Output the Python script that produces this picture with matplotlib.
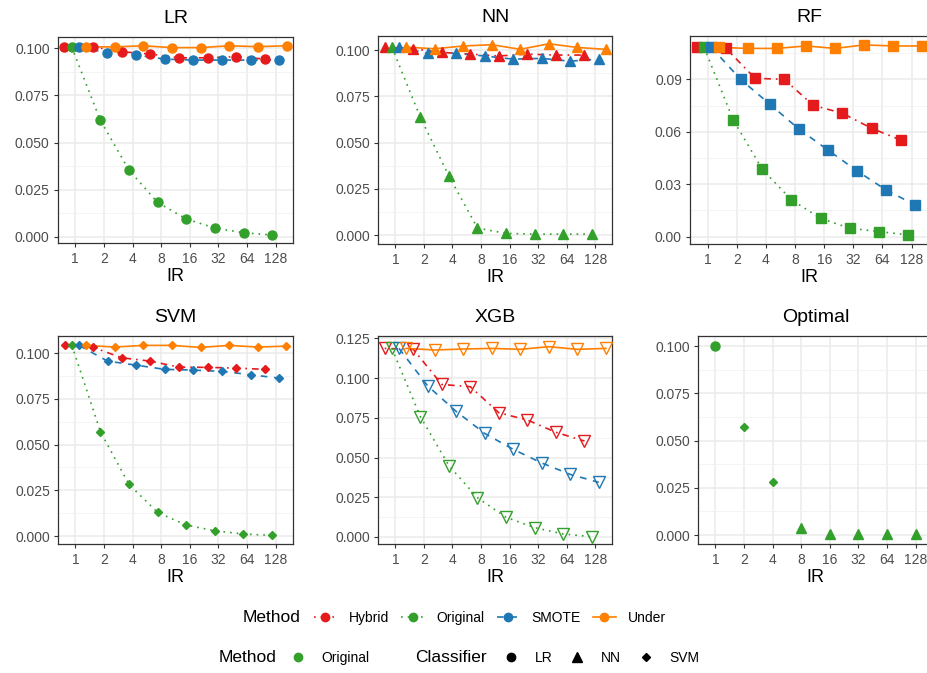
import numpy as np
import matplotlib
matplotlib.use('Agg')
import matplotlib.pyplot as plt
from matplotlib.lines import Line2D

plt.rcParams['font.family'] = ['Liberation Sans', 'DejaVu Sans']

# ==================== DATOS ====================
ir = [1, 2, 4, 8, 16, 32, 64, 128]
ir_labels = ['1', '2', '4', '8', '16', '32', '64', '128']
methods = ['Hybrid', 'Original', 'SMOTE', 'Under']

lr_hybrid = [0.1008, 0.1008, 0.0982, 0.0970, 0.0950, 0.0950, 0.0956, 0.0943]
lr_original = [0.1008, 0.0619, 0.0354, 0.0182, 0.0094, 0.0046, 0.0021, 0.0009]
lr_smote = [0.1008, 0.0977, 0.0965, 0.0943, 0.0938, 0.0938, 0.0938, 0.0938]
lr_under = [0.1008, 0.1008, 0.1014, 0.1004, 0.1004, 0.1014, 0.1009, 0.1014]

nn_hybrid = [0.1016, 0.1007, 0.0987, 0.0978, 0.0968, 0.0978, 0.0973, 0.0973]
nn_original = [0.1016, 0.0636, 0.0319, 0.0038, 0.0009, 0.0005, 0.0005, 0.0005]
nn_smote = [0.1016, 0.0982, 0.0982, 0.0968, 0.0951, 0.0955, 0.0940, 0.0951]
nn_under = [0.1016, 0.1007, 0.1022, 0.1029, 0.1004, 0.1034, 0.1014, 0.1004]

rf_hybrid = [0.1083, 0.1077, 0.0906, 0.0900, 0.0751, 0.0706, 0.0620, 0.0553]
rf_original = [0.1083, 0.0667, 0.0385, 0.0210, 0.0105, 0.0048, 0.0029, 0.0010]
rf_smote = [0.1083, 0.0900, 0.0759, 0.0616, 0.0496, 0.0376, 0.0267, 0.0181]
rf_under = [0.1083, 0.1077, 0.1077, 0.1091, 0.1077, 0.1097, 0.1091, 0.1091]

svm_hybrid = [0.1042, 0.1031, 0.0974, 0.0956, 0.0923, 0.0922, 0.0918, 0.0911]
svm_original = [0.1042, 0.0570, 0.0282, 0.0129, 0.0060, 0.0029, 0.0011, 0.0004]
svm_smote = [0.1042, 0.0956, 0.0934, 0.0911, 0.0907, 0.0900, 0.0882, 0.0863]
svm_under = [0.1042, 0.1033, 0.1042, 0.1042, 0.1031, 0.1042, 0.1033, 0.1038]

xgb_hybrid = [0.1187, 0.1181, 0.0960, 0.0946, 0.0782, 0.0736, 0.0659, 0.0604]
xgb_original = [0.1187, 0.0757, 0.0449, 0.0247, 0.0124, 0.0059, 0.0019, 0.0002]
xgb_smote = [0.1187, 0.0952, 0.0791, 0.0652, 0.0552, 0.0466, 0.0394, 0.0344]
xgb_under = [0.1187, 0.1177, 0.1183, 0.1187, 0.1181, 0.1198, 0.1181, 0.1187]

optimal_values = [0.1000, 0.0571, 0.0280, 0.0035, 0.0005, 0.0005, 0.0005, 0.0005]
optimal_classifier = ['LR', 'SVM', 'SVM', 'NN', 'NN', 'NN', 'NN', 'NN']

# ==================== ESTILOS ====================
colores = {'Hybrid': '#E41A1C', 'Original': '#33A02C', 'SMOTE': '#1F78B4', 'Under': '#FF7F00'}
lineas = {'Hybrid': (0, (1, 3, 4, 3)), 'Original': (0, (1, 3)), 'SMOTE': (0, (4, 4)), 'Under': '-'}
dodge = {'Hybrid': -0.375, 'Original': -0.125, 'SMOTE': 0.125, 'Under': 0.375}

W, H = 927, 673


def caja(l, t, r, b):
    return [l / W, 1 - b / H, (r - l) / W, (b - t) / H]


def estilo_panel(ax, titulo, ylim, yticks, yminor, fmt):
    ax.set_xlim(-0.6, 7.6)
    ax.set_ylim(*ylim)
    ax.set_xticks(np.log2(ir))
    ax.set_xticklabels(ir_labels)
    ax.set_yticks(yticks)
    ax.set_yticklabels([fmt.format(v) for v in yticks])
    ax.set_yticks(yminor, minor=True)
    ax.grid(True, which='major', color='#EBEBEB', lw=1.1, zorder=0)
    ax.grid(True, which='minor', axis='y', color='#F2F2F2', lw=0.6, zorder=0)
    ax.tick_params(which='minor', left=False)
    ax.tick_params(which='major', length=3, width=0.8, color='#333333',
                   labelsize=10, labelcolor='#4D4D4D', pad=3)
    ax.set_axisbelow(True)
    for s in ax.spines.values():
        s.set_color('#333333')
        s.set_linewidth(0.9)
    ax.set_title(titulo, fontsize=14, pad=10)
    ax.set_xlabel('IR', fontsize=13, labelpad=2)


def panel(box, titulo, series, marker, ms, ylim, yticks, yminor, fmt, abierto=False):
    ax = fig.add_axes(caja(*box))
    x0 = np.log2(ir)
    for m in methods:
        ax.plot(x0 + dodge[m], series[m], color=colores[m], ls=lineas[m], lw=1.2, zorder=2)
    for m in methods:
        if abierto:
            ax.plot(x0 + dodge[m], series[m], ls='none', marker=marker, ms=ms,
                    mfc='none', mec=colores[m], mew=1.0, zorder=3)
        else:
            ax.plot(x0 + dodge[m], series[m], ls='none', marker=marker, ms=ms,
                    color=colores[m], mec=colores[m], zorder=3)
    estilo_panel(ax, titulo, ylim, yticks, yminor, fmt)
    return ax


fig = plt.figure(figsize=(W / 100, H / 100), dpi=100)

t1 = [0, 0.025, 0.05, 0.075, 0.1]
m1 = [0.0125, 0.0375, 0.0625, 0.0875]

panel((58, 36.7, 293, 243.3), 'LR',
      {'Hybrid': lr_hybrid, 'Original': lr_original, 'SMOTE': lr_smote, 'Under': lr_under},
      'o', 6.5, (-0.0035, 0.1062), t1, m1, '{:.3f}')
panel((378.3, 36, 612.3, 244.3), 'NN',
      {'Hybrid': nn_hybrid, 'Original': nn_original, 'SMOTE': nn_smote, 'Under': nn_under},
      '^', 7, (-0.005, 0.1076), t1, m1, '{:.3f}')
panel((690.3, 36, 929, 244.3), 'RF',
      {'Hybrid': rf_hybrid, 'Original': rf_original, 'SMOTE': rf_smote, 'Under': rf_under},
      's', 6.5, (-0.0044, 0.1148), [0, 0.03, 0.06, 0.09], [0.015, 0.045, 0.075, 0.105], '{:.2f}')
panel((58.3, 335.7, 292.7, 544.3), 'SVM',
      {'Hybrid': svm_hybrid, 'Original': svm_original, 'SMOTE': svm_smote, 'Under': svm_under},
      'D', 4.5, (-0.0045, 0.1095), t1, m1, '{:.3f}')
panel((378.3, 336, 612.3, 544.3), 'XGB',
      {'Hybrid': xgb_hybrid, 'Original': xgb_original, 'SMOTE': xgb_smote, 'Under': xgb_under},
      'v', 8, (-0.0046, 0.1265), t1 + [0.125], m1 + [0.1125], '{:.3f}', abierto=True)

# Optimal
ax = fig.add_axes(caja(698.3, 336, 932.7, 544.3))
marcas = {'LR': ('o', 6.5), 'NN': ('^', 7), 'SVM': ('D', 4.5)}
x0 = np.log2(ir)
for c in ['LR', 'NN', 'SVM']:
    idx = [i for i, k in enumerate(optimal_classifier) if k == c]
    ax.plot(x0[idx], np.array(optimal_values)[idx], ls='none', marker=marcas[c][0],
            ms=marcas[c][1], color=colores['Original'], zorder=3)
estilo_panel(ax, 'Optimal', (-0.0049, 0.1053), t1, m1, '{:.3f}')

# ==================== LEYENDAS ====================
ly1 = 1 - 618 / H
ly2 = 1 - 658 / H
fig.text(243 / W, ly1, 'Method', fontsize=12.5, va='center', ha='left')
h1 = [Line2D([], [], color=colores[m], ls=lineas[m], lw=1.2, marker='o', ms=6) for m in methods]
fig.legend(h1, methods, loc='center left', bbox_to_anchor=(314 / W, ly1), ncol=4,
           frameon=False, fontsize=10, handlelength=1.6, handletextpad=0.9,
           columnspacing=0.9, borderpad=0, borderaxespad=0)

fig.text(219 / W, ly2, 'Method', fontsize=12.5, va='center', ha='left')
h2 = [Line2D([], [], color=colores['Original'], ls='none', marker='o', ms=6)]
fig.legend(h2, ['Original'], loc='center left', bbox_to_anchor=(287 / W, ly2),
           frameon=False, fontsize=10, handlelength=1.6, handletextpad=0.9,
           borderpad=0, borderaxespad=0)

fig.text(415 / W, ly2, 'Classifier', fontsize=12.5, va='center', ha='left')
h3 = [Line2D([], [], color='black', ls='none', marker=marcas[c][0], ms=marcas[c][1] - 0.5)
      for c in ['LR', 'NN', 'SVM']]
fig.legend(h3, ['LR', 'NN', 'SVM'], loc='center left', bbox_to_anchor=(500 / W, ly2), ncol=3,
           frameon=False, fontsize=10, handlelength=1.6, handletextpad=0.9,
           columnspacing=1.0, borderpad=0, borderaxespad=0)

fig.savefig('out.png', dpi=100)
